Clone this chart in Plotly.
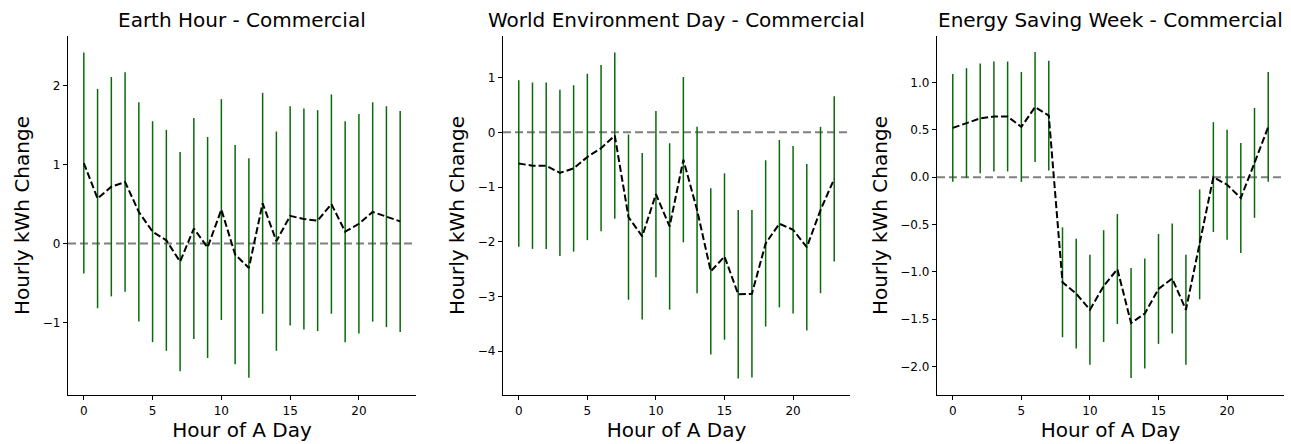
import plotly.graph_objects as go

hours = list(range(24))

titles = [
    "Earth Hour - Commercial",
    "World Environment Day - Commercial",
    "Energy Saving Week - Commercial",
]

# mean hourly change and half-width of the interval, per event
earth_mean = [1.02, 0.57, 0.72, 0.78, 0.40, 0.15, 0.04, -0.23, 0.19, -0.05, 0.43, -0.14,
              -0.31, 0.51, 0.03, 0.35, 0.31, 0.29, 0.50, 0.15, 0.25, 0.40, 0.34, 0.28]
earth_err = [1.40, 1.39, 1.39, 1.39, 1.39, 1.40, 1.40, 1.39, 1.40, 1.40, 1.40, 1.39,
             1.39, 1.40, 1.39, 1.39, 1.40, 1.40, 1.39, 1.40, 1.39, 1.39, 1.40, 1.40]

wed_mean = [-0.57, -0.61, -0.61, -0.74, -0.66, -0.45, -0.29, -0.06, -1.55, -1.90, -1.13, -1.72,
            -0.50, -1.42, -2.54, -2.27, -2.96, -2.95, -2.03, -1.67, -1.78, -2.10, -1.42, -0.85]
wed_err = [1.52, 1.52, 1.52, 1.52, 1.52, 1.52, 1.52, 1.52, 1.51, 1.52, 1.52, 1.52,
           1.51, 1.52, 1.52, 1.52, 1.54, 1.53, 1.52, 1.53, 1.53, 1.52, 1.52, 1.51]

esw_mean = [0.52, 0.57, 0.62, 0.64, 0.64, 0.53, 0.74, 0.65, -1.11, -1.23, -1.40, -1.15,
            -0.97, -1.54, -1.44, -1.18, -1.07, -1.40, -0.71, 0.00, -0.08, -0.22, 0.15, 0.53]
esw_err = [0.57, 0.58, 0.58, 0.58, 0.58, 0.58, 0.58, 0.58, 0.58, 0.58, 0.58, 0.59,
           0.58, 0.58, 0.58, 0.58, 0.58, 0.58, 0.58, 0.58, 0.58, 0.58, 0.58, 0.58]

y_ranges = [[-1.92, 2.63], [-4.80, 1.76], [-2.30, 1.49]]
y_ticks = [[-1, 0, 1, 2], [-4, -3, -2, -1, 0, 1], [-2.0, -1.5, -1.0, -0.5, 0.0, 0.5, 1.0]]
y_formats = ["d", "d", ".1f"]

W, H = 1291, 444
x_px = [(68, 416), (503, 850), (937, 1284)]
y_px = (36, 395)

FONT = "DejaVu Sans"
series = [(earth_mean, earth_err), (wed_mean, wed_err), (esw_mean, esw_err)]

fig = go.Figure()
layout = dict(
    width=W, height=H,
    margin=dict(l=0, r=0, t=0, b=0),
    paper_bgcolor="white", plot_bgcolor="white",
    showlegend=False,
    font=dict(family=FONT, color="black"),
    annotations=[], shapes=[],
)

ydom = [1 - y_px[1] / H, 1 - y_px[0] / H]
for i, (mean, err) in enumerate(series):
    n = "" if i == 0 else str(i + 1)
    xa, ya = "x" + n, "y" + n
    fig.add_trace(go.Scatter(
        x=hours, y=mean, mode="lines",
        line=dict(color="black", width=2, dash="7px,3px"),
        error_y=dict(type="data", array=err, symmetric=True,
                     color="#0a6a0a", thickness=1.5, width=0),
        xaxis=xa, yaxis=ya,
    ))
    xdom = [x_px[i][0] / W, x_px[i][1] / W]
    layout["xaxis" + n] = dict(
        domain=xdom, anchor=ya, range=[-1.15, 24.15],
        tickvals=[0, 5, 10, 15, 20], ticks="outside", ticklen=4, tickwidth=1,
        tickcolor="black", showgrid=False, zeroline=False,
        showline=True, linecolor="black", linewidth=1.3,
        tickfont=dict(size=12, family=FONT, color="black"),
        title=dict(text="Hour of A Day", font=dict(size=20, family=FONT), standoff=4),
    )
    layout["yaxis" + n] = dict(
        domain=ydom, anchor=xa, range=y_ranges[i],
        tickvals=y_ticks[i], tickformat=y_formats[i],
        ticks="outside", ticklen=4, tickwidth=1, tickcolor="black",
        showgrid=False, zeroline=False,
        showline=True, linecolor="black", linewidth=1.3,
        tickfont=dict(size=12, family=FONT, color="black"),
        title=dict(text="Hourly kWh Change", font=dict(size=20, family=FONT), standoff=7),
    )
    layout["shapes"].append(dict(
        type="line", xref=xa + " domain", yref=ya,
        x0=0, x1=1, y0=0, y1=0, layer="below",
        line=dict(color="#808080", width=2, dash="8px,4px"),
    ))
    layout["annotations"].append(dict(
        text=titles[i], xref="paper", yref="paper",
        x=(xdom[0] + xdom[1]) / 2, y=1 - 20 / H,
        xanchor="center", yanchor="middle", showarrow=False,
        font=dict(size=20, family=FONT, color="black"),
    ))

fig.update_layout(**layout)
fig.write_html("out.html")
